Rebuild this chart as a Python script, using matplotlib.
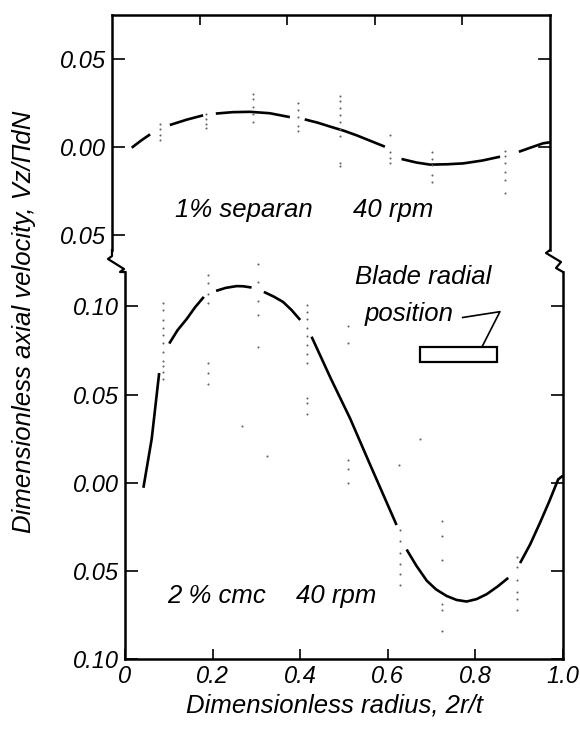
import numpy as np
import matplotlib
matplotlib.use('Agg')
import matplotlib.pyplot as plt
from matplotlib.lines import Line2D
from matplotlib.patches import Rectangle

plt.rcParams['font.family'] = ['Liberation Sans', 'DejaVu Sans']

# fitted curves (x = 2r/t, v = Vz/pi dN)
sep_x = [0.045, 0.066, 0.087, 0.132, 0.17, 0.208, 0.237, 0.275, 0.315, 0.36, 0.406, 0.44, 0.47, 0.498,
         0.53, 0.56, 0.59, 0.623, 0.661, 0.695, 0.726, 0.765, 0.802, 0.845, 0.886, 0.929, 0.955, 0.984, 1.0]
sep_v = [-0.0004, 0.0036, 0.0072, 0.0125, 0.0155, 0.018, 0.019, 0.0198, 0.020, 0.0192, 0.017, 0.0157, 0.0138, 0.0116,
         0.0092, 0.0065, 0.0035, 0.0002, -0.0068, -0.0088, -0.010, -0.0098, -0.0093, -0.0077, -0.0055, -0.0027, -0.0004, 0.0021, 0.0027]
sep_gaps = [(0.087, 0.132), (0.208, 0.237), (0.406, 0.44), (0.623, 0.661), (0.886, 0.929)]

cmc_x = [0.042, 0.061, 0.078, 0.101, 0.12, 0.141, 0.16, 0.180, 0.208, 0.23, 0.255, 0.27, 0.289, 0.317, 0.34,
         0.361, 0.38, 0.40, 0.426, 0.47, 0.514, 0.56, 0.62, 0.643, 0.665, 0.689, 0.71, 0.734, 0.757, 0.78,
         0.803, 0.826, 0.85, 0.875, 0.902, 0.925, 0.947, 0.968, 0.989, 1.0]
cmc_v = [-0.0029, 0.0249, 0.0622, 0.0789, 0.0865, 0.0929, 0.0995, 0.1054, 0.1088, 0.1105, 0.1115, 0.1114, 0.1107,
         0.1082, 0.1055, 0.1025, 0.098, 0.0923, 0.0828, 0.059, 0.0364, 0.010, -0.024, -0.0379, -0.047, -0.0556,
         -0.0605, -0.0642, -0.0665, -0.0674, -0.066, -0.0632, -0.059, -0.054, -0.0456, -0.035, -0.023, -0.011,
         0.0019, 0.004]
cmc_gaps = [(0.078, 0.101), (0.180, 0.208), (0.289, 0.317), (0.40, 0.426), (0.62, 0.643), (0.875, 0.902)]

# measured points (faint dots), one list per radial station
sep_dot_x = [0.11, 0.215, 0.322, 0.424, 0.52, 0.635, 0.73, 0.897]
sep_dot_v = [[0.013, 0.010, 0.007, 0.004],
             [0.019, 0.016, 0.013, 0.011],
             [0.030, 0.027, 0.023, 0.019, 0.014],
             [0.025, 0.021, 0.017, 0.012, 0.009],
             [0.029, 0.026, 0.022, 0.018, 0.014, 0.010, 0.006, -0.009, -0.011],
             [0.007, -0.003, -0.006, -0.009],
             [-0.003, -0.007, -0.010, -0.016, -0.020],
             [-0.002, -0.005, -0.009, -0.014, -0.019, -0.026]]

cmc_dot_x = [0.087, 0.19, 0.304, 0.415, 0.51, 0.628, 0.723, 0.894]
cmc_dot_v = [[0.102, 0.098, 0.092, 0.088, 0.084, 0.079, 0.074, 0.069, 0.066, 0.063, 0.059],
             [0.118, 0.113, 0.107, 0.102, 0.068, 0.062, 0.056],
             [0.124, 0.114, 0.103, 0.095, 0.077],
             [0.101, 0.097, 0.093, 0.088, 0.083, 0.078, 0.073, 0.068, 0.048, 0.045, 0.039],
             [0.089, 0.079, 0.0126, 0.0075, 0.0],
             [-0.027, -0.033, -0.040, -0.046, -0.052, -0.058],
             [-0.022, -0.030, -0.044, -0.069, -0.072, -0.084],
             [-0.042, -0.048, -0.055, -0.062, -0.066, -0.072]]
# odd single dots
cmc_stray_x = [0.266, 0.324, 0.673, 0.626]
cmc_stray_v = [0.032, 0.015, 0.025, 0.0098]

top_yticks = [0.05, 0.0, -0.05]
top_yticklabels = ['0.05', '0.00', '0.05']
bot_yticks = [0.10, 0.05, 0.0, -0.05, -0.10]
bot_yticklabels = ['0.10', '0.05', '0.00', '0.05', '0.10']
xticks = [0, 0.2, 0.4, 0.6, 0.8, 1.0]
xticklabels = ['0', '0.2', '0.4', '0.6', '0.8', '1.0']

W, H = 580, 731
fig = plt.figure(figsize=(W / 100, H / 100), dpi=100)


def px(x, y):
    # pixel position -> figure fraction
    return x / W, 1 - y / H


def draw_curve(ax, xs, vs, gaps):
    xs = np.asarray(xs)
    vs = np.asarray(vs)
    seg = [0]
    for i in range(len(xs) - 1):
        mid = 0.5 * (xs[i] + xs[i + 1])
        if any(a <= mid <= b for a, b in gaps):
            if len(seg) > 1:
                ax.plot(xs[seg], vs[seg], color='black', lw=1.9, solid_capstyle='butt')
            seg = [i + 1]
        else:
            seg.append(i + 1)
    if len(seg) > 1:
        ax.plot(xs[seg], vs[seg], color='black', lw=1.9, solid_capstyle='butt')


def draw_dots(ax, dx, dv):
    for x, vals in zip(dx, dv):
        ax.plot([x] * len(vals), vals, ls='none', marker='o', ms=1.5,
                color='#666666', mec='none', clip_on=False)


tick_font = dict(style='italic', size=17)
lab_font = dict(style='italic', size=18.5)

# top panel (1% separan)
l, b = px(112, 250)
r, t = px(550, 15)
ax1 = fig.add_axes([l, b, r - l, t - b])
ax1.set_xlim(0, 1)
ax1.set_ylim(-0.0585, 0.075)
ax1.spines['bottom'].set_visible(False)
ax1.set_yticks(top_yticks)
ax1.set_yticklabels(top_yticklabels, **tick_font)
ax1.set_xticks([0.2, 0.4, 0.6, 0.8])
ax1.tick_params(axis='x', direction='in', top=True, bottom=False, labelbottom=False, length=7, width=1.2)
ax1.tick_params(axis='y', direction='in', left=True, right=False, length=9, width=1.2, pad=4)
for v in [0.05, 0.0]:
    ax1.plot([0.975, 1.0], [v, v], color='black', lw=1.2, clip_on=False)
draw_curve(ax1, sep_x, sep_v, sep_gaps)
draw_dots(ax1, sep_dot_x, sep_dot_v)
ax1.text(0.144, -0.036, '1% separan', ha='left', va='center', **lab_font)
ax1.text(0.55, -0.036, '40 rpm', ha='left', va='center', **lab_font)

# bottom panel (2% cmc)
l, b = px(125, 659)
r, t = px(563, 272)
ax2 = fig.add_axes([l, b, r - l, t - b])
ax2.set_xlim(0, 1)
ax2.set_ylim(-0.10, 0.1195)
ax2.spines['top'].set_visible(False)
ax2.set_yticks(bot_yticks)
ax2.set_yticklabels(bot_yticklabels, **tick_font)
ax2.set_xticks(xticks)
ax2.set_xticklabels(xticklabels, **tick_font)
ax2.tick_params(axis='x', direction='in', length=7, width=1.2, pad=4)
ax2.tick_params(axis='y', direction='in', right=True, length=9, width=1.2, pad=4)
draw_curve(ax2, cmc_x, cmc_v, cmc_gaps)
draw_dots(ax2, cmc_dot_x, cmc_dot_v)
ax2.plot(cmc_stray_x, cmc_stray_v, ls='none', marker='o', ms=1.5, color='#666666', mec='none')
ax2.text(0.096, -0.064, '2 % cmc', ha='left', va='center', **lab_font)
ax2.text(0.39, -0.064, '40 rpm', ha='left', va='center', **lab_font)
ax2.text(0.525, 0.1165, 'Blade radial', ha='left', va='center', **lab_font)
ax2.text(0.548, 0.0955, 'position', ha='left', va='center', **lab_font)
ax2.plot([0.771, 0.856, 0.815], [0.0937, 0.097, 0.077], color='black', lw=1.2)
ax2.add_patch(Rectangle((0.674, 0.0684), 0.849 - 0.674, 0.077 - 0.0684,
                        fill=False, ec='black', lw=1.6))

for ax in (ax1, ax2):
    for s in ax.spines.values():
        s.set_linewidth(1.8)

# axis break marks
left_break = [(112, 250), (112, 256), (108, 259), (124, 269), (120, 272), (125, 272)]
right_break = [(550, 250), (546, 253), (561, 262), (556, 268), (563, 272)]
for pts in (left_break, right_break):
    fx, fy = zip(*[px(x, y) for x, y in pts])
    fig.add_artist(Line2D(fx, fy, color='black', lw=1.6, transform=fig.transFigure))

fig.text(*px(334, 706), 'Dimensionless radius, 2r/t', ha='center', va='center', **lab_font)
fig.text(*px(24, 322), 'Dimensionless axial velocity, Vz/\u03a0dN', ha='center', va='center',
         rotation=90, **lab_font)

fig.savefig('out.png', dpi=100)
